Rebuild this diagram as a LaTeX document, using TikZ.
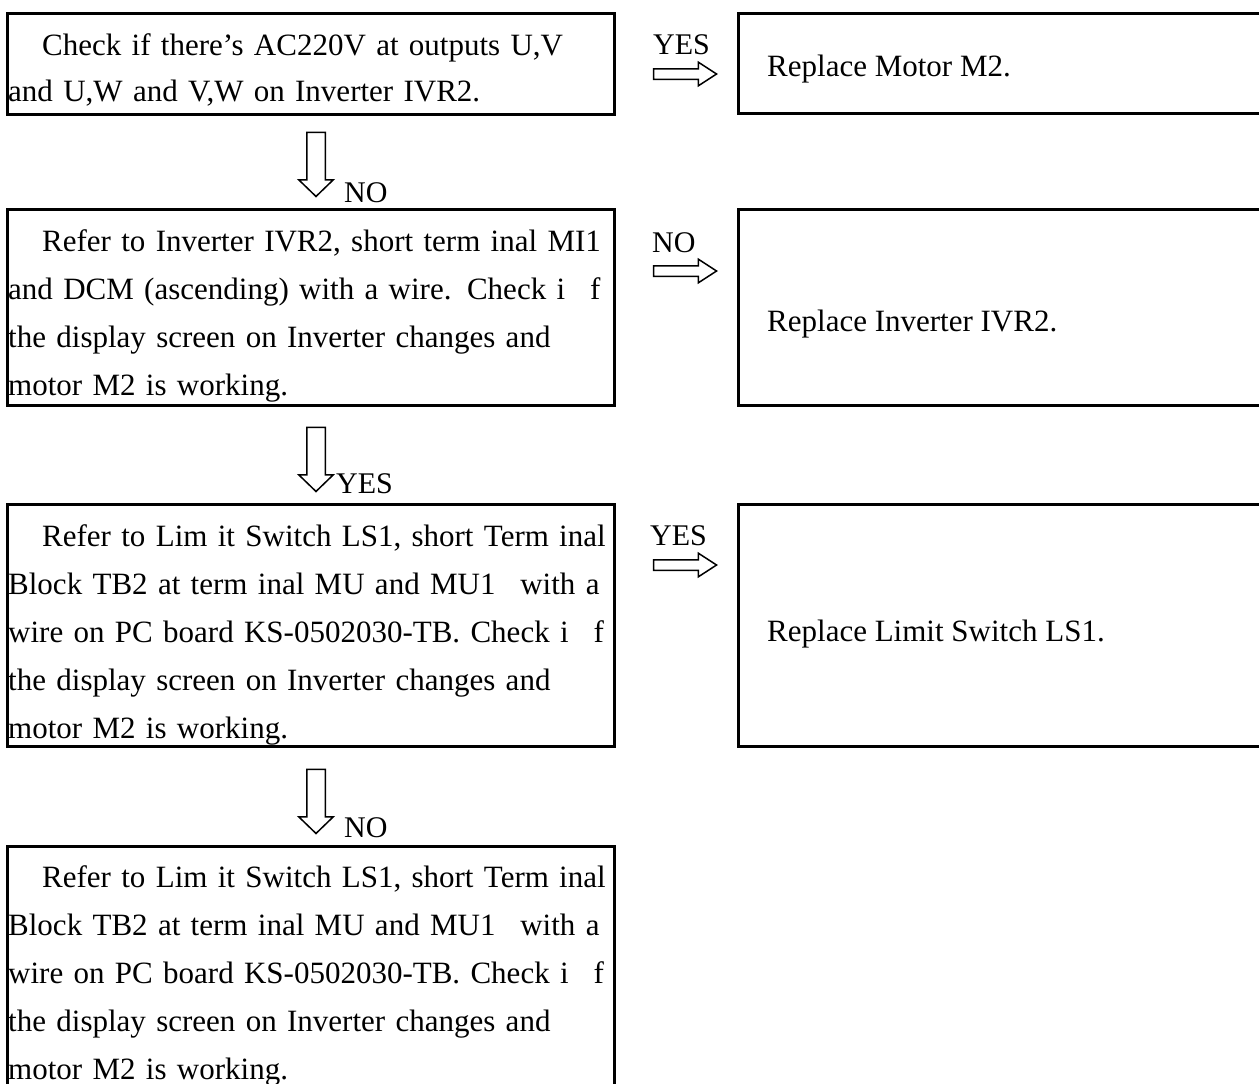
\documentclass[tikz,border=0pt]{standalone}
\usepackage{fontspec}
\setmainfont{Liberation Serif}
\usetikzlibrary{shapes.arrows,positioning,calc}

\newcommand{\fullline}[2][601pt]{\makebox[#1][s]{#2}}

\begin{document}
\begin{tikzpicture}[
    x=1pt, y=-1pt,
    every node/.style={font=\fontsize{31}{48}\selectfont},
    box/.style={draw, line width=3.2pt, anchor=north west, inner sep=0pt, minimum width=607pt},
    rbox/.style={draw, line width=3.2pt, anchor=north west, inner sep=0pt, minimum width=560pt},
    txt/.style={anchor=base west, inner sep=0pt, text width=620pt, align=left},
    ans/.style={anchor=base west, inner sep=0pt},
    tag/.style={anchor=base west, inner sep=0pt, font=\fontsize{30}{36}\selectfont},
    rarrow/.style={single arrow, draw, line width=1.5pt, inner sep=4.5pt, minimum height=63pt,
      single arrow head extend=6.5pt, single arrow tip angle=66},
    darrow/.style={single arrow, draw, line width=1.5pt, inner sep=8.5pt, shape border rotate=270,
      minimum height=64pt, single arrow head extend=8pt, single arrow tip angle=92}
  ]
  \clip (0,0) rectangle (1259,1084);
  % left column
  \node[box, minimum height=101pt] (chk) at (6,12) {};
  \node[box, minimum height=196pt] (inv) at (6,208) {};
  \node[box, minimum height=242pt] (ls) at (6,503) {};
  \node[box, minimum height=242pt] (lsb) at (6,845) {};
  \node[txt, font=\fontsize{31}{46}\selectfont] (chktxt) at (8,55)
    {\hspace*{34pt}Check if there’s AC220V at outputs U,V\\
     and U,W and V,W on Inverter IVR2.};
  \node[txt] (invtxt) at (8,251)
    {\hspace*{34pt}Refer to Inverter IVR2, short term\ inal MI1\\
     \fullline{and DCM (ascending) with a wire. Check i\hspace{0.8em}f}\\
     the display screen on Inverter changes and\\
     motor M2 is working.};
  \node[txt] (lstxt) at (8,546)
    {\fullline{\hspace*{34pt}Refer to Lim it Switch LS1, short Term inal}\\
     \fullline[596pt]{Block TB2 at term inal MU and MU1\hspace{0.8em}with a}\\
     \fullline{wire on PC board KS-0502030-TB. Check i\hspace{0.8em}f}\\
     the display screen on Inverter changes and\\
     motor M2 is working.};
  \node[txt] (lsbtxt) at (8,887)
    {\fullline{\hspace*{34pt}Refer to Lim it Switch LS1, short Term inal}\\
     \fullline[596pt]{Block TB2 at term inal MU and MU1\hspace{0.8em}with a}\\
     \fullline{wire on PC board KS-0502030-TB. Check i\hspace{0.8em}f}\\
     the display screen on Inverter changes and\\
     motor M2 is working.};
  % right column
  \node[rbox, minimum height=100pt] (motor) at (737,12) {};
  \node[rbox, minimum height=196pt] (ivr) at (737,208) {};
  \node[rbox, minimum height=242pt] (limit) at (737,503) {};
  \node[ans] (motortxt) at (767,76) {Replace Motor M2.};
  \node[ans] (ivrtxt) at (767,331) {Replace Inverter IVR2.};
  \node[ans] (limittxt) at (767,641) {Replace Limit Switch LS1.};
  % arrows
  \node[rarrow] (go1) at (681,74) {};
  \node[rarrow] (go2) at (681,271) {};
  \node[rarrow] (go3) at (681,565) {};
  \node[tag] (go1lab) at (653,54) {YES};
  \node[tag] (go2lab) at (652,252) {NO};
  \node[tag] (go3lab) at (650,545) {YES};
  \node[darrow] (dn1) at (316,160) {};
  \node[darrow] (dn2) at (316,455) {};
  \node[darrow] (dn3) at (316,797) {};
  \node[tag] (dn1lab) at (344,202) {NO};
  \node[tag] (dn2lab) at (336,493) {YES};
  \node[tag] (dn3lab) at (344,837) {NO};
\end{tikzpicture}
\end{document}
